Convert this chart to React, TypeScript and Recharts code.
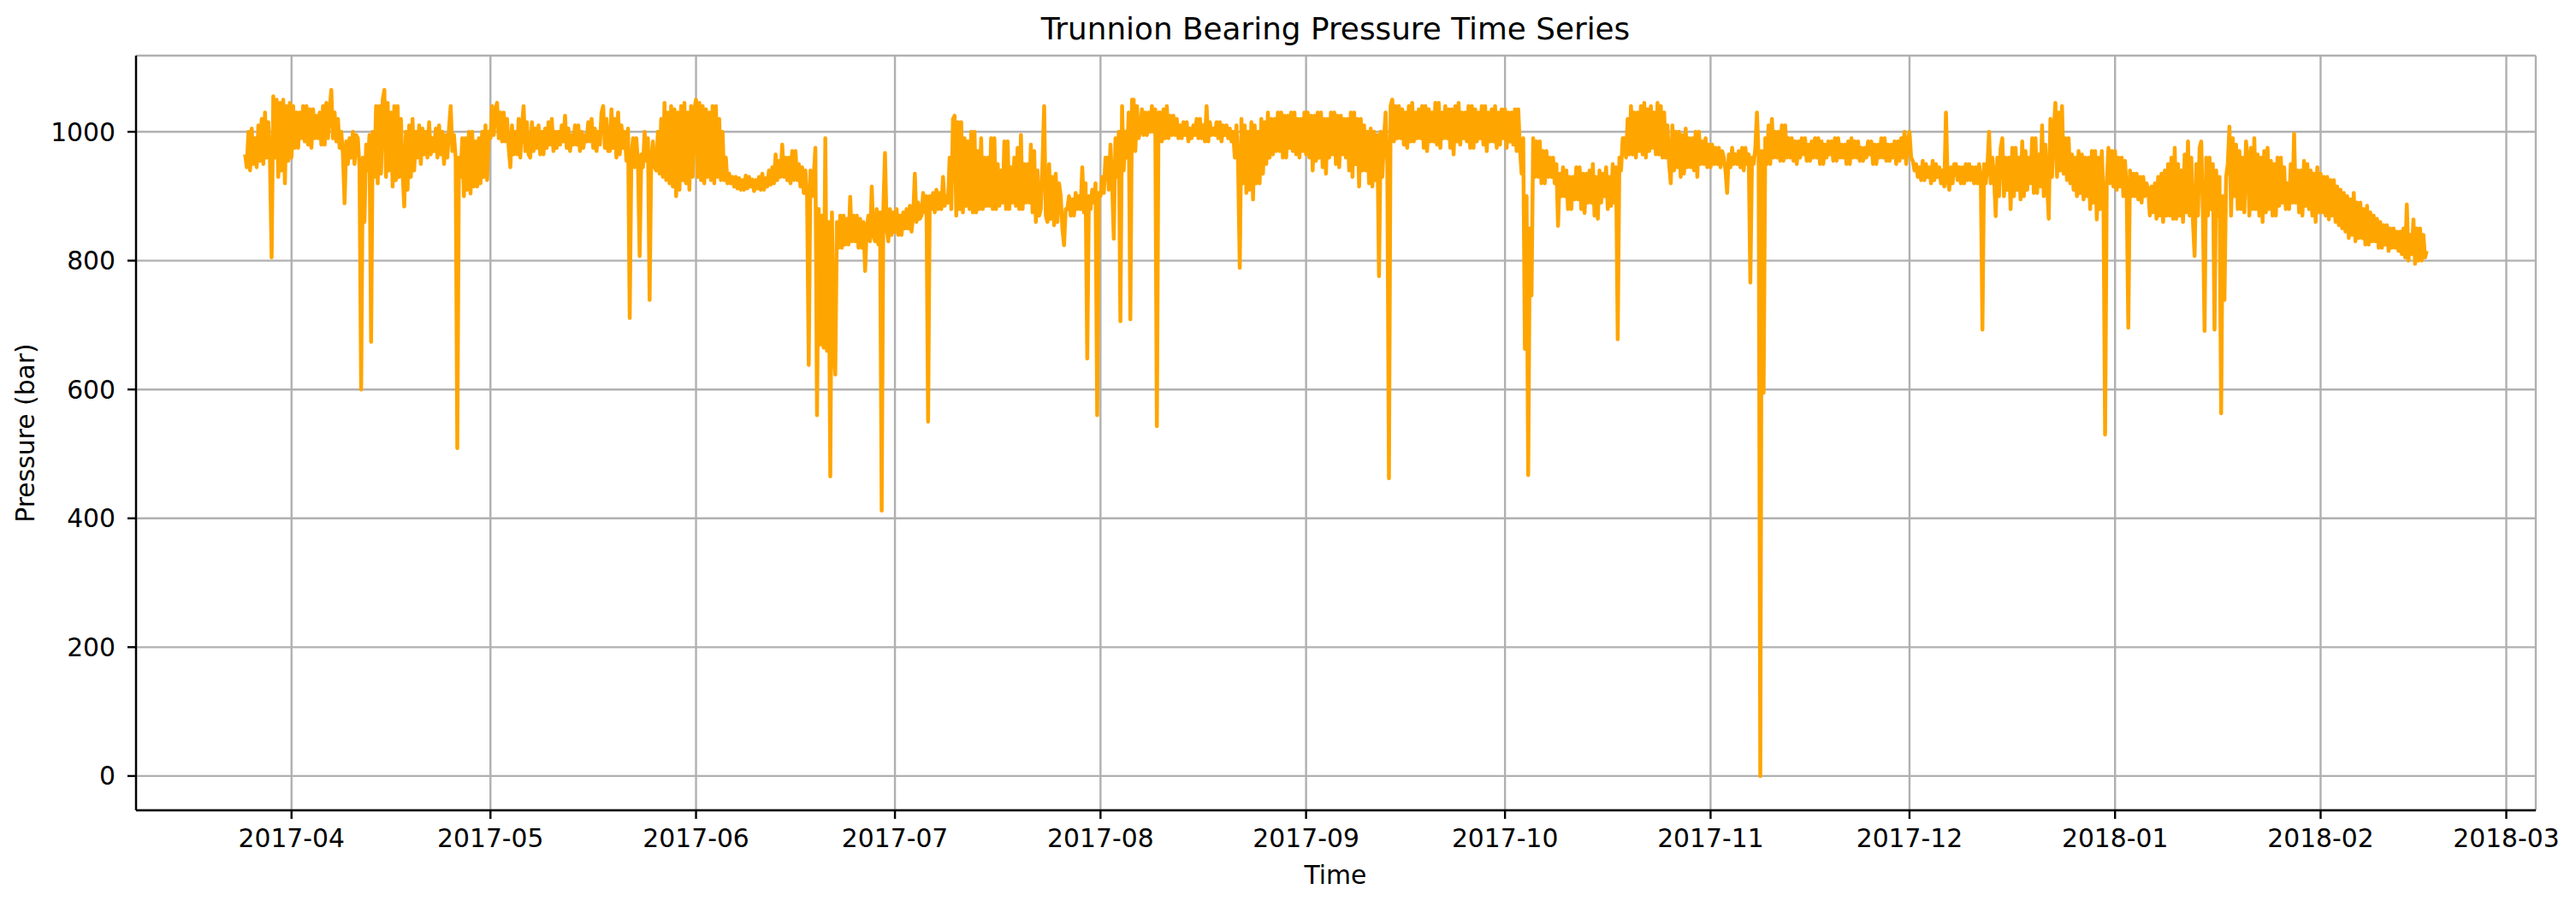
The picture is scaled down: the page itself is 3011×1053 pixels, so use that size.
import React from 'react';
import { LineChart, Line, XAxis, YAxis, CartesianGrid } from 'recharts';

// Pressure readings (bar), four samples per day (00, 06, 12, 18 UTC)
const mar17 = [
  965, 945, 1000, 940, 1005, 950, 990, 945, 1010, 955, 1020, 950, 1030, 960, 1015, 955,
  805, 1055, 960, 1050, 930, 1045, 940, 1050, 920, 1040, 955, 1045,
];
const apr17 = [
  960, 1040, 975, 1030, 975, 1030, 990, 1040, 985, 1040, 980, 1035, 975, 1035, 990, 1025,
  990, 1030, 980, 1040, 980, 1045, 990, 1035, 1065, 990, 1030, 985, 1020, 975, 1000, 965,
  889, 985, 950, 990, 960, 1000, 950, 995, 990, 945, 600, 960, 860, 980, 940, 995,
  674, 1000, 930, 1040, 920, 1040, 935, 1050, 1065, 930, 1045, 940, 1030, 915, 1040, 925,
  1040, 930, 1020, 935, 884, 1000, 910, 1010, 930, 1020, 940, 1000, 960, 1010, 950, 1005,
  965, 1000, 960, 1015, 965, 990, 970, 1005, 960, 1010, 965, 1000, 950, 995, 960, 1005,
  1040, 970, 995, 960, 509, 960, 930, 990, 900, 990, 910, 1000, 904, 1000, 915, 985,
  915, 990, 920, 1000, 930, 1010, 925, 1000,
];
const may17 = [
  990, 1040, 995, 1035, 1045, 990, 1030, 985, 1030, 985, 1020, 975, 945, 1010, 965, 1000,
  965, 1020, 960, 1010, 1040, 970, 1015, 965, 960, 1015, 970, 1005, 975, 1010, 965, 1000,
  965, 1005, 975, 1015, 980, 1020, 970, 1000, 975, 1000, 980, 1010, 985, 1025, 975, 1005,
  970, 995, 980, 1010, 980, 1010, 970, 1000, 975, 995, 985, 1015, 985, 1020, 975, 1005,
  970, 1000, 980, 1030, 1040, 975, 1020, 970, 970, 1035, 975, 1020, 960, 1030, 965, 1010,
  975, 1000, 955, 1005, 711, 960, 990, 945, 990, 950, 807, 965, 945, 1000, 955, 990,
  739, 960, 985, 945, 940, 1000, 935, 1020, 930, 1045, 925, 1030, 920, 1040, 915, 1035,
  900, 1030, 910, 1040, 925, 1045, 920, 1030, 910, 1040, 930, 1035,
];
const jun17 = [
  1050, 930, 1045, 925, 1040, 920, 1035, 930, 1030, 925, 1040, 920, 1040, 930, 1020, 925,
  1000, 925, 960, 920, 935, 920, 930, 915, 930, 912, 928, 910, 925, 910, 932, 912,
  930, 915, 926, 908, 925, 912, 930, 910, 935, 910, 928, 915, 940, 918, 945, 920,
  965, 925, 955, 930, 980, 930, 960, 925, 960, 920, 970, 925, 970, 925, 950, 915,
  945, 905, 940, 900, 638, 940, 900, 930, 975, 560, 880, 670, 870, 665, 990, 660,
  860, 465, 875, 670, 623, 860, 820, 870, 820, 870, 825, 865, 825, 899, 830, 870,
  830, 870, 820, 865, 820, 860, 784, 850, 870, 830, 915, 840, 830, 880, 825, 875,
  412, 880, 967, 850, 830, 880, 840, 875,
];
const jul17 = [
  845, 880, 840, 870, 840, 875, 850, 880, 850, 885, 845, 870, 935, 860, 890, 865,
  870, 905, 875, 900, 550, 900, 880, 905, 875, 910, 880, 905, 880, 930, 885, 900,
  890, 960, 880, 1020, 1025, 870, 1015, 880, 1015, 875, 990, 885, 985, 880, 1000, 875,
  1000, 875, 970, 880, 990, 880, 960, 885, 960, 885, 990, 880, 990, 880, 950, 885,
  940, 890, 985, 880, 985, 880, 945, 890, 960, 885, 975, 880, 995, 880, 950, 890,
  950, 890, 980, 875, 970, 860, 940, 870, 880, 950, 1040, 870, 860, 950, 865, 930,
  855, 935, 860, 920, 900, 850, 824, 880, 880, 900, 870, 895, 870, 905, 880, 900,
  880, 945, 875, 920, 648, 900, 880, 910, 890, 920, 560, 905,
];
const aug17 = [
  900, 930, 905, 960, 960, 910, 980, 920, 834, 990, 930, 1000, 706, 1040, 940, 1000,
  960, 1030, 709, 1050, 1050, 970, 1040, 990, 1000, 1035, 995, 1030, 995, 1030, 1000, 1040,
  1000, 1035, 543, 1030, 1030, 985, 1035, 990, 1040, 990, 1025, 995, 1025, 995, 1020, 990,
  1010, 990, 1015, 995, 1015, 985, 1005, 990, 1010, 995, 1020, 990, 1020, 990, 1010, 985,
  1040, 985, 1015, 995, 1005, 995, 1015, 990, 1015, 985, 1010, 995, 1010, 990, 1005, 985,
  1000, 960, 1010, 950, 789, 1020, 920, 1010, 905, 1000, 910, 1015, 895, 1010, 920, 1000,
  920, 1020, 935, 1015, 950, 1030, 960, 1020, 965, 1020, 970, 1030, 970, 1030, 960, 1025,
  960, 1025, 975, 1030, 970, 1030, 965, 1020, 960, 1020, 970, 1030,
];
const sep17 = [
  965, 1030, 960, 1025, 940, 1025, 955, 1030, 960, 1030, 945, 1020, 935, 1020, 960, 1030,
  965, 1030, 950, 1025, 945, 1025, 965, 1020, 960, 1020, 940, 1030, 930, 1030, 950, 1020,
  915, 1020, 940, 1010, 940, 1000, 920, 1005, 915, 1000, 925, 995, 776, 1000, 930, 990,
  1030, 950, 462, 1040, 1050, 985, 1040, 990, 1040, 990, 1035, 980, 1030, 975, 1040, 985,
  1045, 985, 1030, 990, 1035, 990, 1040, 975, 1040, 970, 1035, 985, 1030, 985, 1045, 980,
  1045, 975, 1030, 990, 1040, 990, 1035, 975, 1035, 965, 1040, 985, 1045, 980, 1030, 990,
  1030, 985, 1040, 975, 1040, 975, 1035, 985, 1030, 990, 1040, 980, 1040, 970, 1030, 985,
  1035, 985, 1040, 975, 1030, 980, 1035, 990,
];
const oct17 = [
  1035, 975, 1030, 985, 1030, 980, 1035, 970, 1035, 975, 935, 990, 663, 900, 467, 850,
  746, 990, 930, 985, 930, 985, 920, 970, 920, 970, 930, 960, 930, 960, 920, 950,
  854, 935, 900, 945, 900, 940, 880, 930, 880, 930, 895, 945, 895, 945, 880, 935,
  874, 935, 890, 940, 890, 950, 870, 930, 865, 940, 890, 935, 900, 945, 880, 930,
  885, 950, 890, 945, 678, 960, 940, 990, 990, 960, 1020, 965, 1040, 965, 1030, 960,
  1030, 970, 1040, 965, 1045, 960, 1035, 970, 1040, 975, 1030, 965, 1045, 965, 1040, 960,
  1030, 960, 1010, 950, 920, 1010, 940, 1000, 945, 1000, 930, 995, 935, 1005, 945, 990,
  945, 990, 940, 1000, 930, 1000, 950, 985, 950, 990, 945, 980,
];
const nov17 = [
  945, 980, 950, 975, 950, 975, 945, 970, 960, 940, 905, 965, 945, 975, 950, 965,
  950, 970, 945, 975, 940, 975, 950, 965, 766, 960, 950, 975, 1030, 960, 0, 970,
  595, 990, 950, 1010, 950, 1020, 960, 1000, 960, 1000, 955, 1010, 955, 1010, 960, 990,
  960, 990, 955, 985, 950, 985, 960, 990, 965, 990, 955, 980, 955, 985, 960, 990,
  960, 990, 950, 985, 950, 980, 960, 985, 965, 985, 955, 990, 955, 990, 960, 980,
  960, 980, 950, 985, 950, 990, 960, 985, 960, 985, 955, 975, 955, 975, 960, 985,
  965, 985, 950, 980, 950, 980, 960, 990, 960, 990, 955, 980, 955, 980, 960, 985,
  950, 985, 955, 990, 960, 1000, 950, 985,
];
const dec17 = [
  1000, 960, 955, 940, 950, 930, 945, 925, 955, 925, 950, 930, 945, 920, 955, 925,
  950, 930, 945, 920, 940, 915, 1030, 925, 910, 945, 920, 950, 950, 925, 945, 920,
  945, 920, 950, 925, 950, 925, 945, 920, 945, 920, 950, 930, 693, 950, 920, 945,
  1000, 920, 960, 930, 869, 960, 900, 975, 990, 900, 960, 910, 960, 880, 975, 900,
  975, 910, 960, 895, 985, 900, 970, 910, 960, 920, 990, 905, 990, 905, 965, 915,
  1010, 900, 980, 920, 865, 1020, 930, 1000, 1045, 930, 1030, 940, 1040, 935, 990, 925,
  990, 920, 965, 910, 960, 900, 970, 905, 965, 895, 960, 900, 960, 880, 970, 890,
  970, 864, 960, 880, 970, 900, 530, 920, 975, 920, 970, 915,
];
const jan18 = [
  970, 910, 960, 915, 960, 900, 955, 910, 696, 940, 900, 935, 900, 935, 895, 930,
  890, 930, 900, 920, 910, 870, 915, 875, 920, 865, 930, 870, 935, 860, 940, 870,
  950, 870, 960, 865, 975, 865, 950, 870, 940, 860, 965, 875, 985, 870, 960, 860,
  807, 950, 870, 975, 985, 870, 691, 960, 870, 960, 880, 950, 693, 940, 870, 930,
  563, 900, 739, 930, 950, 1008, 870, 990, 900, 980, 880, 970, 880, 960, 875, 985,
  960, 870, 975, 880, 990, 880, 965, 870, 960, 860, 970, 875, 975, 880, 955, 870,
  950, 870, 960, 885, 960, 890, 945, 880, 920, 880, 950, 890, 997, 890, 940, 875,
  940, 870, 955, 885, 950, 880, 940, 870, 935, 860, 945, 875,
];
const feb18 = [
  935, 875, 930, 870, 930, 864, 925, 870, 925, 860, 915, 855, 910, 850, 905, 845,
  900, 835, 895, 840, 905, 830, 890, 835, 890, 835, 880, 825, 885, 825, 875, 830,
  870, 830, 865, 820, 860, 820, 855, 825, 855, 815, 850, 820, 850, 820, 845, 815,
  845, 810, 850, 805, 887, 800, 840, 810, 864, 795, 850, 800, 850, 800, 840, 805,
  815,
];

const segments = [
  { start: Date.UTC(2017, 2, 25), values: mar17 },
  { start: Date.UTC(2017, 3, 1), values: apr17 },
  { start: Date.UTC(2017, 4, 1), values: may17 },
  { start: Date.UTC(2017, 5, 1), values: jun17 },
  { start: Date.UTC(2017, 6, 1), values: jul17 },
  { start: Date.UTC(2017, 7, 1), values: aug17 },
  { start: Date.UTC(2017, 8, 1), values: sep17 },
  { start: Date.UTC(2017, 9, 1), values: oct17 },
  { start: Date.UTC(2017, 10, 1), values: nov17 },
  { start: Date.UTC(2017, 11, 1), values: dec17 },
  { start: Date.UTC(2018, 0, 1), values: jan18 },
  { start: Date.UTC(2018, 1, 1), values: feb18 },
];

const STEP = 6 * 3600 * 1000;

const monthTicks = [
  Date.UTC(2017, 3, 1), Date.UTC(2017, 4, 1), Date.UTC(2017, 5, 1), Date.UTC(2017, 6, 1),
  Date.UTC(2017, 7, 1), Date.UTC(2017, 8, 1), Date.UTC(2017, 9, 1), Date.UTC(2017, 10, 1),
  Date.UTC(2017, 11, 1), Date.UTC(2018, 0, 1), Date.UTC(2018, 1, 1), Date.UTC(2018, 2, 1),
];
const yTicks = [0, 200, 400, 600, 800, 1000];

const data = segments.flatMap((s) => s.values.map((v, i) => ({ t: s.start + i * STEP, p: v })));

const ts = data.map((d) => d.t);
const ps = data.map((d) => d.p);
const xMin = Math.min(...ts);
const xMax = Math.max(...ts);
const xPad = (xMax - xMin) * 0.05;
const yMin = Math.min(...ps);
const yMax = Math.max(...ps);
const yPad = (yMax - yMin) * 0.05;
const xDomain: [number, number] = [xMin - xPad, xMax + xPad];
const yDomain: [number, number] = [yMin - yPad, yMax + yPad];

const fmt = (t: number) => {
  const d = new Date(t);
  return `${d.getUTCFullYear()}-${String(d.getUTCMonth() + 1).padStart(2, '0')}`;
};

const FONT = 'DejaVu Sans';
const spine = { stroke: '#000', strokeWidth: 2.4 };

export default function App() {
  return (
    <div style={{ position: 'absolute', left: 0, top: 0, width: 3011, height: 1053, background: '#fff' }}>
      <LineChart width={3011} height={1053} data={data} margin={{ top: 65, right: 47, bottom: 0, left: 0 }}>
        <CartesianGrid stroke="#b0b0b0" strokeWidth={2.4} />
        <XAxis
          dataKey="t"
          type="number"
          domain={xDomain}
          allowDataOverflow
          ticks={monthTicks}
          interval={0}
          tickFormatter={fmt}
          height={106}
          tickSize={10}
          tickMargin={12}
          axisLine={spine}
          tickLine={spine}
          tick={{ fill: '#000', fontSize: 29.8, fontFamily: FONT }}
        />
        <XAxis
          xAxisId="top"
          orientation="top"
          dataKey="t"
          type="number"
          domain={xDomain}
          allowDataOverflow
          height={0}
          tick={false}
          tickLine={false}
          axisLine={spine}
        />
        <YAxis
          type="number"
          domain={yDomain}
          allowDataOverflow
          ticks={yTicks}
          interval={0}
          width={159}
          tickSize={10}
          tickMargin={14}
          axisLine={spine}
          tickLine={spine}
          tick={{ fill: '#000', fontSize: 29.8, fontFamily: FONT }}
        />
        <YAxis
          yAxisId="right"
          orientation="right"
          type="number"
          domain={yDomain}
          allowDataOverflow
          width={0}
          tick={false}
          tickLine={false}
          axisLine={spine}
        />
        <Line
          dataKey="p"
          type="linear"
          stroke="#FFA500"
          strokeWidth={4.5}
          strokeLinejoin="round"
          dot={false}
          activeDot={false}
          isAnimationActive={false}
        />
      </LineChart>
      <svg
        width={3011}
        height={1053}
        style={{ position: 'absolute', left: 0, top: 0, pointerEvents: 'none' }}
      >
        <text x={1561} y={46} textAnchor="middle" fontSize={35.8} fontFamily={FONT} fill="#000">
          Trunnion Bearing Pressure Time Series
        </text>
        <text x={1561} y={1033} textAnchor="middle" fontSize={29.8} fontFamily={FONT} fill="#000">
          Time
        </text>
        <text
          transform="translate(39.5,506) rotate(-90)"
          textAnchor="middle"
          fontSize={29.8}
          fontFamily={FONT}
          fill="#000"
        >
          Pressure (bar)
        </text>
      </svg>
    </div>
  );
}
